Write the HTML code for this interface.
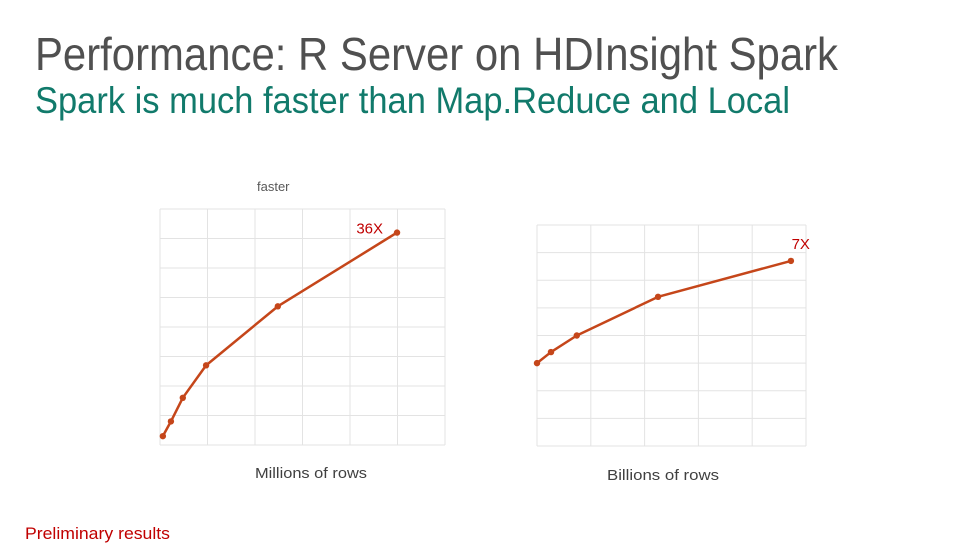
<!DOCTYPE html>
<html><head><meta charset="utf-8"><style>
html,body{margin:0;padding:0;background:#fff;}
svg{display:block;font-family:"Liberation Sans",sans-serif;}
</style></head><body>
<svg width="979" height="551" viewBox="0 0 979 551">
<text x="35" y="70" font-size="46" fill="#505050" textLength="803" lengthAdjust="spacingAndGlyphs">Performance: R Server on HDInsight Spark</text>
<text x="35" y="113" font-size="37" fill="#117a6b" textLength="755" lengthAdjust="spacingAndGlyphs">Spark is much faster than Map.Reduce and Local</text>
<text x="257" y="191" font-size="13" fill="#595959">faster</text>
<g id="c1"></g>
<g id="c2"></g>
<text x="255" y="478" font-size="15" fill="#404040" textLength="112" lengthAdjust="spacingAndGlyphs">Millions of rows</text>
<text x="607" y="480" font-size="15" fill="#404040" textLength="112" lengthAdjust="spacingAndGlyphs">Billions of rows</text>
<text x="25" y="539" font-size="17" fill="#c00000" textLength="145" lengthAdjust="spacingAndGlyphs">Preliminary results</text>
</svg>
<script>
const x1 = [0.06, 0.23, 0.48, 0.97, 2.48, 4.99];
const y1 = [0.3, 0.8, 1.6, 2.7, 4.7, 7.2];
const label1 = "36X";
const x2 = [0, 0.26, 0.74, 2.25, 4.72];
const y2 = [3.0, 3.4, 4.0, 5.4, 6.7];
const label2 = "7X";
const NS = "http://www.w3.org/2000/svg";
function mk(p, t, a){const e=document.createElementNS(NS,t);for(const k in a)e.setAttribute(k,a[k]);p.appendChild(e);return e;}
function draw(g, xs, ys, box, xmax, ymax, label, lx, ly){
  const sx=v=>box.x0+(box.x1-box.x0)*v/xmax;
  const sy=v=>box.y1-(box.y1-box.y0)*v/ymax;
  for(let i=0;i<=xmax;i++){const l=mk(g,'line',{x1:sx(i),x2:sx(i),y1:box.y0,y2:box.y1,stroke:'#e3e3e3','stroke-width':1});
    
    }
  for(let i=0;i<=ymax;i++){const l=mk(g,'line',{x1:box.x0,x2:box.x1,y1:sy(i),y2:sy(i),stroke:'#e3e3e3','stroke-width':1});
    
    }
  const pts=xs.map((v,i)=>sx(v)+','+sy(ys[i])).join(' ');
  const pl=mk(g,'polyline',{points:pts,fill:'none',stroke:'#c5461a','stroke-width':2.5,'stroke-linejoin':'round'});
  
  
  xs.forEach((v,i)=>{const c=mk(g,'circle',{cx:sx(v),cy:sy(ys[i]),r:3.2,fill:'#c5461a'});
    
    });
  const last=xs.length-1;
  const t=mk(g,'text',{x:sx(xs[last])+lx,y:sy(ys[last])+ly,'font-size':15,fill:'#c00000','text-anchor':'end'});
  t.textContent=label;
  
  
}
draw(document.getElementById('c1'),x1,y1,{x0:160,x1:445,y0:209,y1:445},6,8,label1,-14,1);
draw(document.getElementById('c2'),x2,y2,{x0:537,x1:806,y0:225,y1:446},5,8,label2,19,-12);
</script>
</body></html>
